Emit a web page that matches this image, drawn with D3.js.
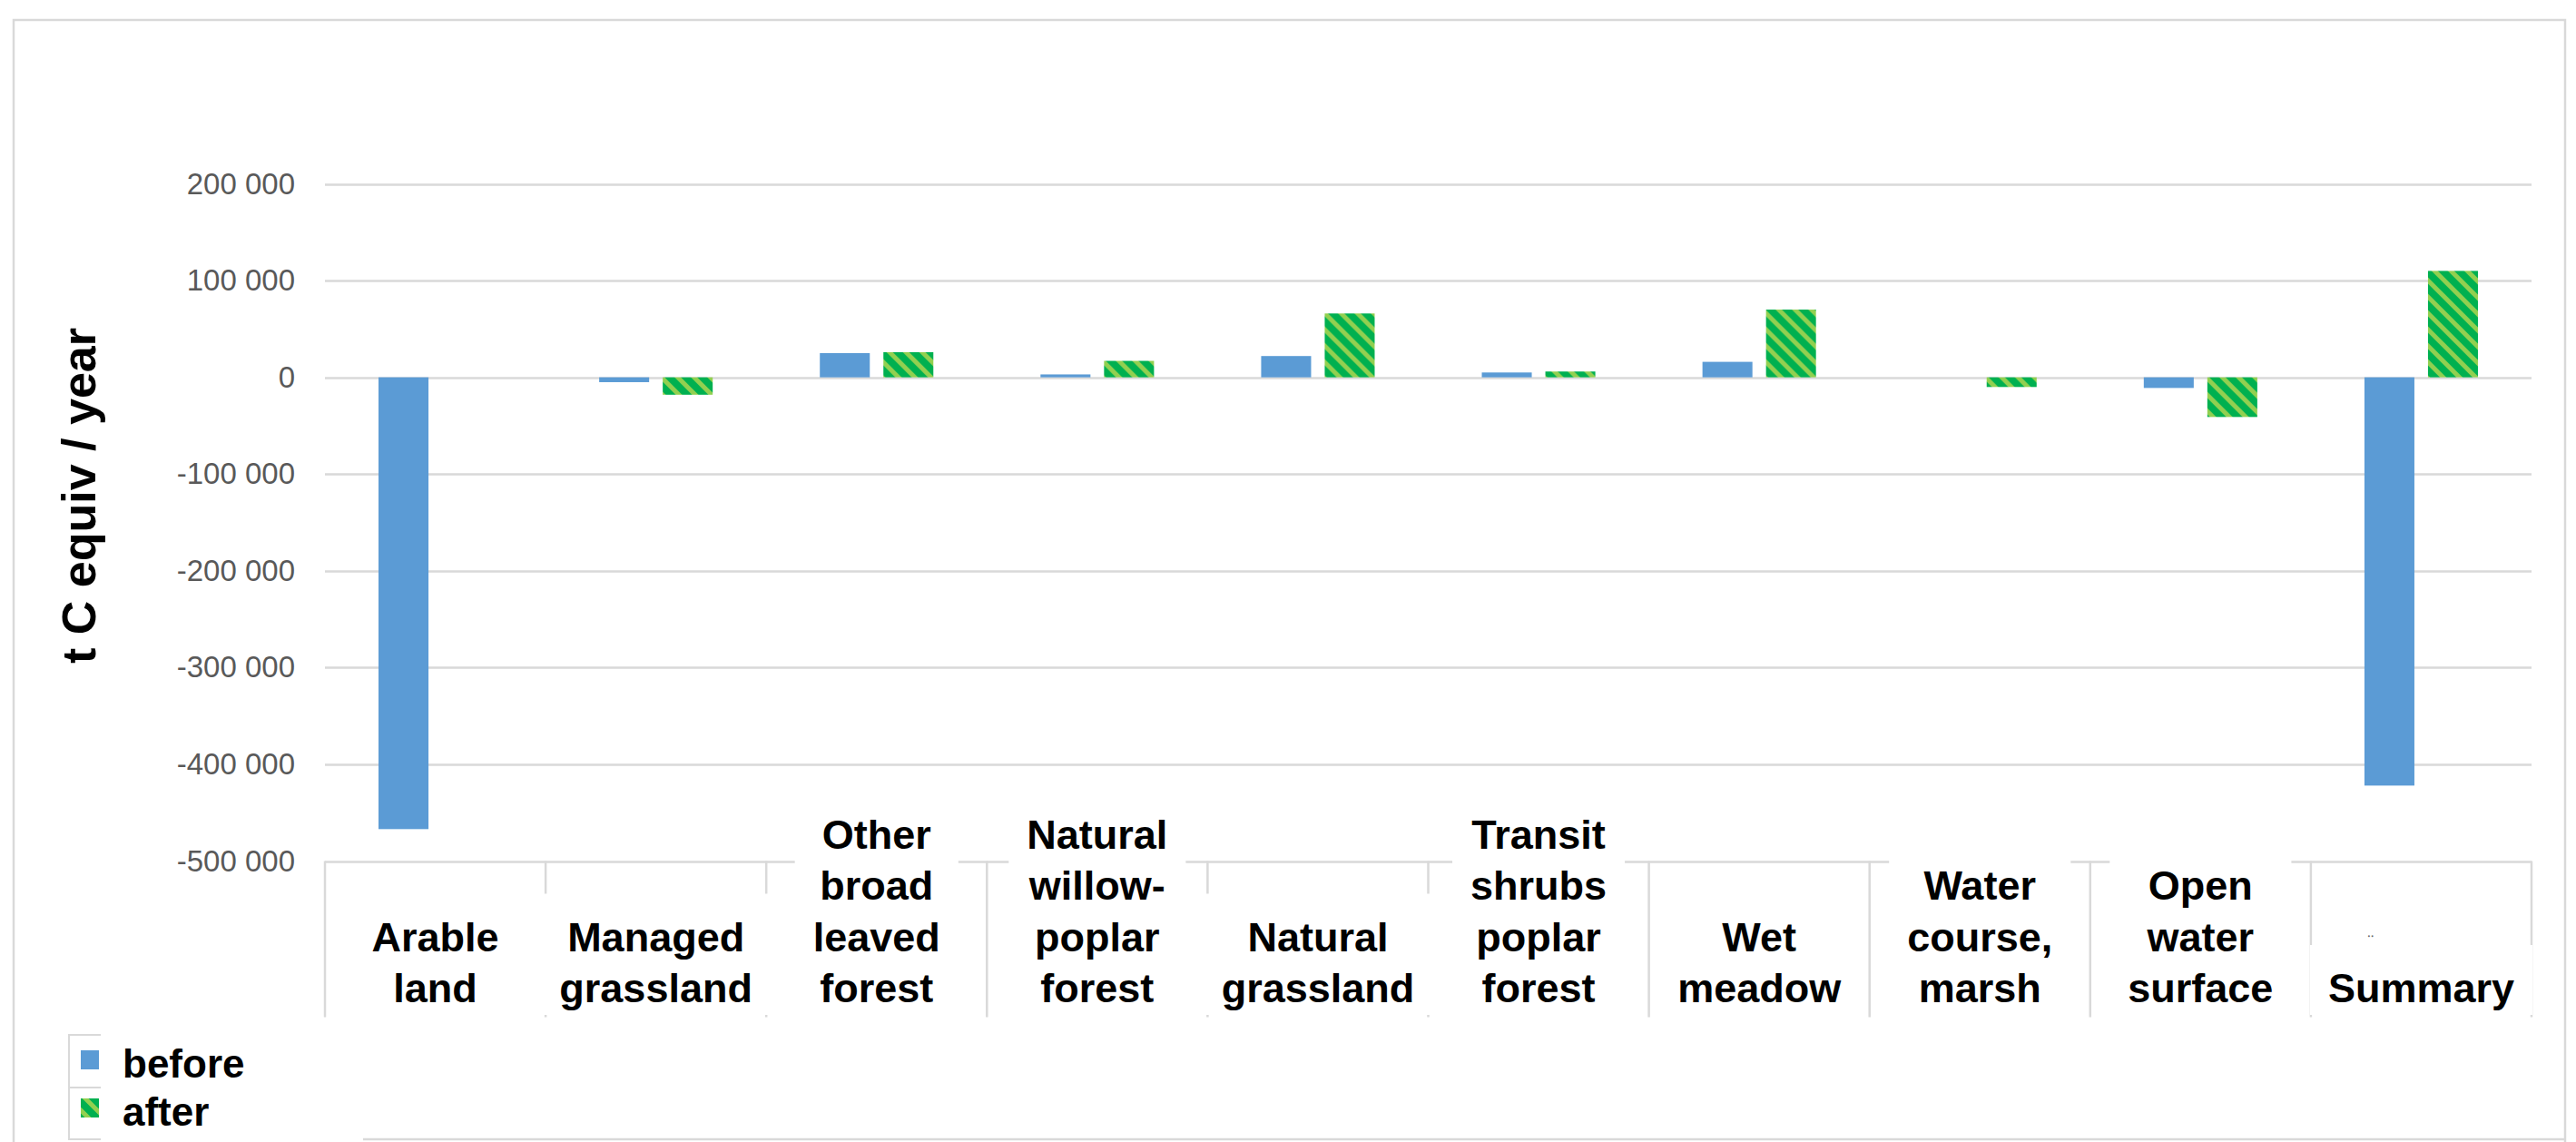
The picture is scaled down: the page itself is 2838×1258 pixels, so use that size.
<!DOCTYPE html>
<html>
<head>
<meta charset="utf-8">
<script src="https://cdn.jsdelivr.net/npm/d3@7"></script>
<style>
  html, body { margin: 0; padding: 0; background: #ffffff; }
  svg { display: block; font-family: "Liberation Sans", Arial, sans-serif; }
</style>
</head>
<body>
<script>
// Land-use categories (line breaks mark the wrapped label lines)
const categories = [
  "Arable\nland",
  "Managed\ngrassland",
  "Other\nbroad\nleaved\nforest",
  "Natural\nwillow-\npoplar\nforest",
  "Natural\ngrassland",
  "Transit\nshrubs\npoplar\nforest",
  "Wet\nmeadow",
  "Water\ncourse,\nmarsh",
  "Open\nwater\nsurface",
  "Summary"
];

// Carbon balance, t C equiv / year
const seriesNames = ["before", "after"];
const beforeValues = [-467000, -5000, 25000, 3000, 22000, 5000, 16000, 0, -11000, -422000];
const afterValues  = [0, -18000, 26000, 17000, 66000, 6000, 70000, -10000, -41000, 110000];

const yTicks = [200000, 100000, 0, -100000, -200000, -300000, -400000, -500000];
const yTitle = "t C equiv / year";

const W = 2838, H = 1258;
const GRID = "#d9d9d9";
const BLUE = "#5b9bd5";

const svg = d3.select("body").append("svg")
  .attr("width", W).attr("height", H);

// Diagonal two-tone hatch used for the "after" series
const defs = svg.append("defs");
const pat = defs.append("pattern")
  .attr("id", "hatch")
  .attr("patternUnits", "userSpaceOnUse")
  .attr("width", 18).attr("height", 18);
pat.append("rect").attr("width", 18).attr("height", 18).attr("fill", "#00b050");
pat.append("path")
  .attr("d", "M-3,-3 L21,21 M-3,15 L3,21 M15,-3 L21,3")
  .attr("stroke", "#92d050").attr("stroke-width", 5).attr("fill", "none");

svg.append("rect").attr("width", W).attr("height", H).attr("fill", "#ffffff");

// Chart frame
const frame = svg.append("g").attr("stroke", GRID).attr("stroke-width", 2.5).attr("fill", "none");
frame.append("path").attr("d", "M15,1258 L15,22 L2826,22 L2826,1258");
frame.append("path").attr("d", "M400,1255 L2826,1255");

const plot = { left: 358, right: 2789 };

const y = d3.scaleLinear().domain([-500000, 200000]).range([948.5, 202.5]);
const x0 = d3.scaleBand().domain(d3.range(categories.length)).range([plot.left, plot.right]).padding(0);
const x1 = d3.scaleBand().domain(seriesNames).range([0, x0.bandwidth()])
  .paddingInner(0.214).paddingOuter(0.843);

const locale = d3.formatLocale({ decimal: ".", thousands: " ", grouping: [3], currency: ["", ""], minus: "-" });
const fmt = locale.format(",");

// Gridlines and value labels
const yAxis = d3.axisLeft(y).tickValues(yTicks).tickFormat(fmt).tickSize(0).tickPadding(0);
const gy = svg.append("g").attr("transform", `translate(325,0)`).call(yAxis);
gy.select(".domain").remove();
gy.selectAll("text")
  .attr("font-size", 33).attr("fill", "#595959")
  .attr("font-family", "'Liberation Sans', Arial, sans-serif");

svg.append("g").selectAll("line").data(yTicks).join("line")
  .attr("x1", plot.left).attr("x2", plot.right)
  .attr("y1", d => Math.round(y(d)) + 0.5).attr("y2", d => Math.round(y(d)) + 0.5)
  .attr("stroke", GRID).attr("stroke-width", 2.5);

// Category separators hanging below the bottom gridline
const bounds = d3.range(categories.length + 1).map(i => i < categories.length ? x0(i) : x0(i - 1) + x0.bandwidth());
svg.append("g").selectAll("line").data(bounds).join("line")
  .attr("x1", d => d).attr("x2", d => d)
  .attr("y1", y(-500000)).attr("y2", y(-500000) + 172)
  .attr("stroke", GRID).attr("stroke-width", 2.5);

// Bars
const rows = categories.map((c, i) => ({ i, values: [
  { key: "before", v: beforeValues[i] },
  { key: "after", v: afterValues[i] }
]}));

const groups = svg.append("g").selectAll("g").data(rows).join("g")
  .attr("transform", d => `translate(${x0(d.i)},0)`);
groups.selectAll("rect").data(d => d.values.filter(e => e.v !== 0)).join("rect")
  .attr("x", d => x1(d.key))
  .attr("width", x1.bandwidth())
  .attr("y", d => Math.min(y(d.v), y(0)))
  .attr("height", d => Math.abs(y(d.v) - y(0)))
  .attr("fill", d => d.key === "before" ? BLUE : "url(#hatch)");

// Category labels, bottom aligned, on white boxes
const lineGap = 56.5, lastBaseline = 1104;
const labels = svg.append("g").selectAll("g").data(categories).join("g");
labels.each(function (c, i) {
  const g = d3.select(this);
  const lines = c.split("\n");
  const cx = x0(i) + x0.bandwidth() / 2;
  const t = g.append("text")
    .attr("text-anchor", "middle")
    .attr("font-size", 45).attr("font-weight", "bold").attr("fill", "#000");
  lines.forEach((ln, k) => {
    t.append("tspan").attr("x", cx)
      .attr("y", lastBaseline - (lines.length - 1 - k) * lineGap)
      .text(ln);
  });
  const bb = t.node().getBBox();
  g.insert("rect", "text")
    .attr("x", bb.x - 20).attr("y", bb.y - 22)
    .attr("width", bb.width + 40).attr("height", bb.height + 26)
    .attr("fill", "#ffffff");
});

// Small mark over the summary label
svg.append("text")
  .attr("x", x0(categories.length - 1) + 62).attr("y", lastBaseline - 72)
  .attr("font-size", 14).attr("fill", "#666").text("‥");

// Axis title
svg.append("text")
  .attr("transform", "translate(105,546) rotate(-90)")
  .attr("text-anchor", "middle")
  .attr("font-size", 52).attr("font-weight", "bold").attr("fill", "#000")
  .text(yTitle);

// Legend
const legend = svg.append("g");
const lg = legend.append("g").attr("stroke", GRID).attr("stroke-width", 2).attr("fill", "none");
lg.append("path").attr("d", "M111,1140 L76,1140 L76,1255 L111,1255 M76,1198 L111,1198");
const legendItems = [
  { name: seriesNames[0], fill: BLUE, y: 1187 },
  { name: seriesNames[1], fill: "url(#hatch)", y: 1240 }
];
legendItems.forEach(it => {
  legend.append("rect").attr("x", 89).attr("y", it.y - 30).attr("width", 20).attr("height", 21).attr("fill", it.fill);
  legend.append("text").attr("x", 135).attr("y", it.y)
    .attr("font-size", 44).attr("font-weight", "bold").attr("fill", "#000").text(it.name);
});
</script>
</body>
</html>
